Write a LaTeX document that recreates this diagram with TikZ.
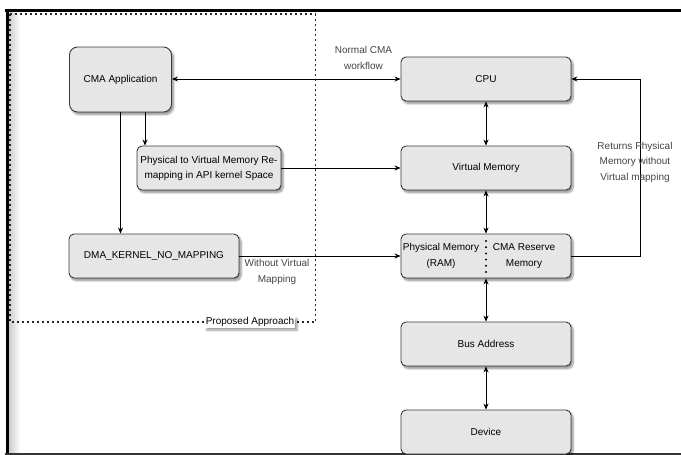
\documentclass[tikz,border=0pt]{standalone}
\usepackage{fontspec}
\setmainfont{Liberation Sans}
\usetikzlibrary{arrows.meta,shadows.blur,positioning}
\definecolor{boxfill}{HTML}{E6E6E6}
\definecolor{boxline}{HTML}{3A3A3A}
\definecolor{lbl}{HTML}{444444}
\tikzset{
  blk/.style={draw=boxline, line width=0.9pt, fill=boxfill, rounded corners=5pt,
    minimum width=170pt, minimum height=44pt, inner sep=1pt, align=center,
    font=\fontsize{10}{15}\selectfont,
    blur shadow={shadow xshift=2pt, shadow yshift=-2.5pt, shadow blur steps=6, shadow opacity=45}},
  arr/.style={draw=black, line width=0.7pt, -{Stealth[length=6pt,width=5pt]}},
  darr/.style={draw=black, line width=0.7pt, {Stealth[length=6pt,width=5pt]}-{Stealth[length=6pt,width=5pt]}},
  lbltext/.style={text=lbl, align=center, font=\fontsize{10}{16}\selectfont, inner sep=0pt},
  dotbox/.style={draw=black!85, line width=1.8pt, dash pattern=on 1.6pt off 3.4pt}
}
\begin{document}
\begin{tikzpicture}[x=1pt,y=-1pt]
\useasboundingbox (0,0) rectangle (681,455);
% inner shadow of frame
\shade[left color=black!22, right color=white] (8,12) rectangle (20,452);
% frame
\draw[line width=3pt, black] (5,10.5) -- (681,10.5);
\draw[line width=3pt, black] (7,9) -- (7,455);
\draw[line width=2pt, black!80] (5,453.5) -- (681,453.5);
% dotted proposed approach box
\draw[dotbox] (10,14) rectangle (315.5,322);
\node[fill=white, inner sep=1pt, font=\fontsize{10}{12}\selectfont,
  blur shadow={shadow xshift=2pt, shadow yshift=-2.5pt, shadow blur steps=5, shadow opacity=40}]
  (prop) at (250,322) {Proposed Approach};
% nodes
\node[blk, minimum width=102pt, minimum height=65pt, rounded corners=8pt] (app) at (120.5,79.5) {CMA Application};
\node[blk, minimum width=144pt] (p2v) at (209,168) {Physical to Virtual Memory Re-\\mapping in API kernel Space};
\node[blk] (dma) at (154,256) {DMA\_KERNEL\_NO\_MAPPING};
\node[blk] (cpu) at (486,79) {CPU};
\node[blk] (vm) at (486,168) {Virtual Memory};
\node[blk] (pm) at (486,256) {};
\node[inner sep=0pt, align=center, font=\fontsize{10}{16}\selectfont] (pml) at (441,256) {Physical Memory\\(RAM)};
\node[inner sep=0pt, align=center, font=\fontsize{10}{16}\selectfont] (pmr) at (524,256) {CMA Reserve\\Memory};
\node[blk] (bus) at (486,344) {Bus Address};
\node[blk] (dev) at (486,432) {Device};
% divider in physical memory
\coordinate (dvt) at (486,241);
\coordinate (dvb) at (486,272);
\draw[line width=2.2pt, line cap=round, dash pattern=on 0pt off 6.2pt] (dvt) -- (dvb);
% connectors
\draw[darr] (app.east |- cpu.west) -- (cpu.west);
\draw[arr] ([xshift=24.5pt]app.south) -- ([xshift=24.5pt]app.south |- p2v.north);
\draw[arr] (app.south) -- (app.south |- dma.north);
\draw[arr] (p2v.east) -- (vm.west);
\draw[arr] (dma.east) -- (pm.west);
\draw[darr] (cpu.south) -- (vm.north);
\draw[darr] (vm.south) -- (pm.north);
\draw[darr] (pm.south) -- (bus.north);
\draw[darr] (bus.south) -- (dev.north);
\coordinate (rt) at (640,79);
\draw[arr] (pm.east) -- (rt |- pm.east) -- (rt) -- (cpu.east);
% labels
\node[lbltext] (l1) at (363.5,58) {Normal CMA\\workflow};
\node[lbltext] (l2) at (277,272) {Without Virtual\\Mapping};
\node[lbltext, font=\fontsize{10}{15.5}\selectfont] (l3) at (635,162) {Returns Physical\\Memory without\\Virtual mapping};
\end{tikzpicture}
\end{document}
